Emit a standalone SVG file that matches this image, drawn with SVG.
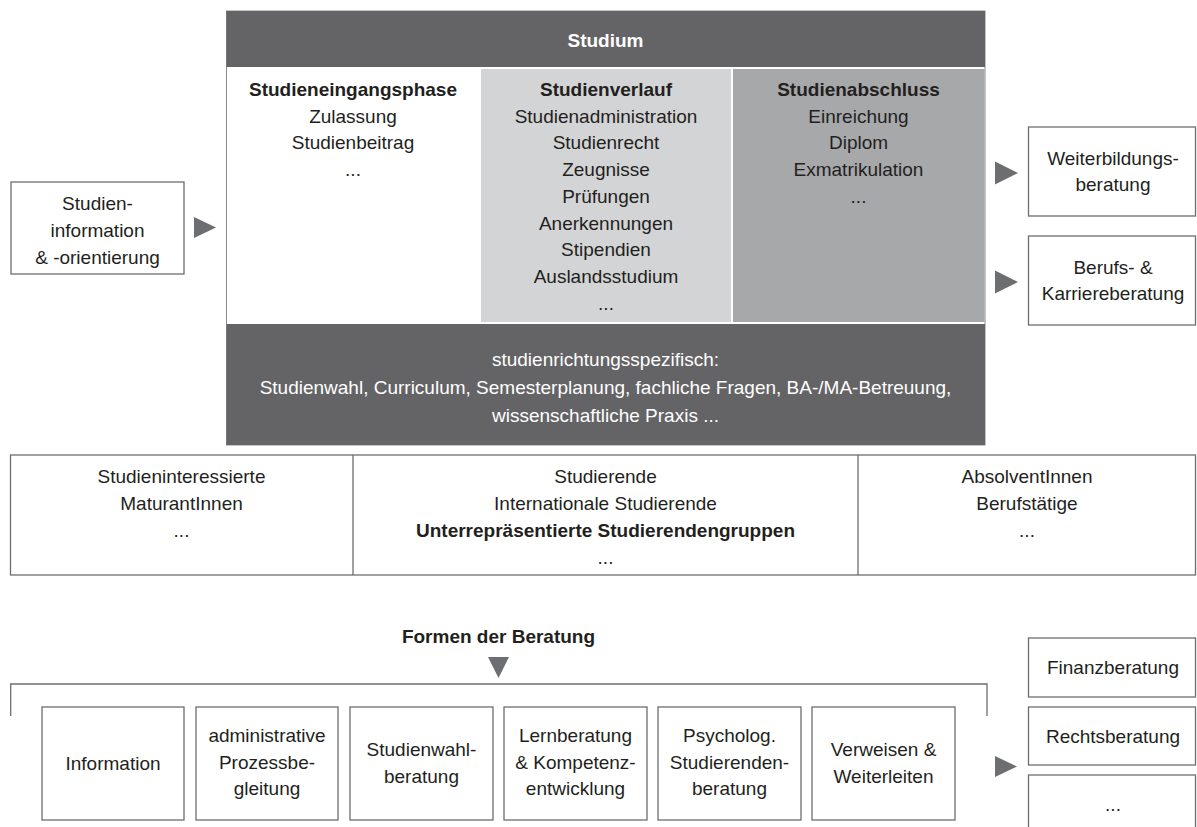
<svg xmlns="http://www.w3.org/2000/svg" width="1197" height="827" viewBox="0 0 1197 827">
<style>
text{font-family:"Liberation Sans",Arial,sans-serif;font-size:19px;fill:#231f20;text-anchor:middle}
.b{font-weight:bold}
.w{fill:#ffffff}
.box{fill:#ffffff;stroke:#6d6e71;stroke-width:1.3}
.line{fill:none;stroke:#6d6e71;stroke-width:1.3}
.arr{fill:#6d6e71}
</style>
<rect width="1197" height="827" fill="#ffffff"/>

<g id="studium">
  <rect x="226.5" y="11" width="758.5" height="434" fill="#ffffff" stroke="#8a8b8d" stroke-width="1"/>
  <rect x="226.5" y="11" width="758.5" height="56" fill="#646466"/>
  <text class="b w" x="605.5" y="47">Studium</text>
  <rect x="481" y="69" width="250" height="253" fill="#d3d4d5"/>
  <rect x="733" y="69" width="251.5" height="253" fill="#a7a8aa"/>
  <rect x="226.5" y="324" width="758.5" height="121" fill="#646466"/>
</g>

<g id="studieneingangsphase">
  <text class="b" x="353" y="96">Studieneingangsphase</text>
  <text x="353" y="122.7">Zulassung</text>
  <text x="353" y="149.4">Studienbeitrag</text>
  <text x="353" y="176.1">...</text>
</g>

<g id="studienverlauf">
  <text class="b" x="606" y="96">Studienverlauf</text>
  <text x="606" y="122.7">Studienadministration</text>
  <text x="606" y="149.4">Studienrecht</text>
  <text x="606" y="176.1">Zeugnisse</text>
  <text x="606" y="202.8">Prüfungen</text>
  <text x="606" y="229.5">Anerkennungen</text>
  <text x="606" y="256.2">Stipendien</text>
  <text x="606" y="282.9">Auslandsstudium</text>
  <text x="606" y="309.6">...</text>
</g>

<g id="studienabschluss">
  <text class="b" x="858.5" y="96">Studienabschluss</text>
  <text x="858.5" y="122.7">Einreichung</text>
  <text x="858.5" y="149.4">Diplom</text>
  <text x="858.5" y="176.1">Exmatrikulation</text>
  <text x="858.5" y="202.8">...</text>
</g>

<g id="studienrichtungsspezifisch">
  <text class="w" x="605.5" y="366">studienrichtungsspezifisch:</text>
  <text class="w" x="605.5" y="394">Studienwahl, Curriculum, Semesterplanung, fachliche Fragen, BA-/MA-Betreuung,</text>
  <text class="w" x="605.5" y="422">wissenschaftliche Praxis ...</text>
</g>

<g id="studieninformation">
  <rect class="box" x="11" y="182" width="173" height="92"/>
  <text x="97.5" y="210">Studien-</text>
  <text x="97.5" y="237">information</text>
  <text x="97.5" y="264">&amp; -orientierung</text>
</g>

<g id="weiterbildungsberatung">
  <rect class="box" x="1028.5" y="127" width="167" height="89"/>
  <text x="1113" y="165">Weiterbildungs-</text>
  <text x="1113" y="191">beratung</text>
</g>

<g id="berufsberatung">
  <rect class="box" x="1028.5" y="236" width="167" height="89"/>
  <text x="1113" y="274">Berufs- &amp;</text>
  <text x="1113" y="300">Karriereberatung</text>
</g>

<g id="zielgruppen">
  <rect class="box" x="10.5" y="455" width="1185" height="120"/>
  <line class="line" x1="353" y1="455" x2="353" y2="575"/>
  <line class="line" x1="858" y1="455" x2="858" y2="575"/>
  <text x="181.5" y="483">Studieninteressierte</text>
  <text x="181.5" y="510">MaturantInnen</text>
  <text x="181.5" y="537">...</text>
  <text x="605.5" y="483">Studierende</text>
  <text x="605.5" y="510">Internationale Studierende</text>
  <text class="b" x="605.5" y="537">Unterrepräsentierte Studierendengruppen</text>
  <text x="605.5" y="564">...</text>
  <text x="1027" y="483">AbsolventInnen</text>
  <text x="1027" y="510">Berufstätige</text>
  <text x="1027" y="537">...</text>
</g>

<g id="formen">
  <text class="b" x="498.5" y="643">Formen der Beratung</text>
</g>

<g id="information">
  <rect class="box" x="42" y="707" width="142" height="113"/>
  <text x="113" y="770">Information</text>
</g>
<g id="administrative">
  <rect class="box" x="196" y="707" width="142" height="113"/>
  <text x="267" y="742">administrative</text>
  <text x="267" y="768.5">Prozessbe-</text>
  <text x="267" y="795">gleitung</text>
</g>
<g id="studienwahlberatung">
  <rect class="box" x="350" y="707" width="143" height="113"/>
  <text x="421.5" y="756">Studienwahl-</text>
  <text x="421.5" y="783">beratung</text>
</g>
<g id="lernberatung">
  <rect class="box" x="504" y="707" width="143" height="113"/>
  <text x="575.5" y="742">Lernberatung</text>
  <text x="575.5" y="768.5">&amp; Kompetenz-</text>
  <text x="575.5" y="795">entwicklung</text>
</g>
<g id="psycholog">
  <rect class="box" x="658" y="707" width="143" height="113"/>
  <text x="729.5" y="742">Psycholog.</text>
  <text x="729.5" y="768.5">Studierenden-</text>
  <text x="729.5" y="795">beratung</text>
</g>
<g id="verweisen">
  <rect class="box" x="812" y="707" width="143" height="113"/>
  <text x="883.5" y="756">Verweisen &amp;</text>
  <text x="883.5" y="783">Weiterleiten</text>
</g>

<g id="finanzberatung">
  <rect class="box" x="1028.5" y="638" width="167" height="59"/>
  <text x="1113" y="674">Finanzberatung</text>
</g>
<g id="rechtsberatung">
  <rect class="box" x="1028.5" y="707" width="167" height="58"/>
  <text x="1113" y="743">Rechtsberatung</text>
</g>
<g id="weitere">
  <rect class="box" x="1028.5" y="775" width="167" height="60"/>
  <text x="1113" y="811">...</text>
</g>

<g id="connectors">
  <polygon class="arr" points="194,217 216,227.5 194,238"/>
  <polygon class="arr" points="995,161.5 1018,173 995,184.5"/>
  <polygon class="arr" points="995,270.5 1018,282 995,293.5"/>
  <polygon class="arr" points="488,657 509,657 498.5,678"/>
  <path class="line" d="M10.7,716 V684 H987 V716"/>
  <polygon class="arr" points="995,756 1017,766.5 995,777"/>
</g>
</svg>
